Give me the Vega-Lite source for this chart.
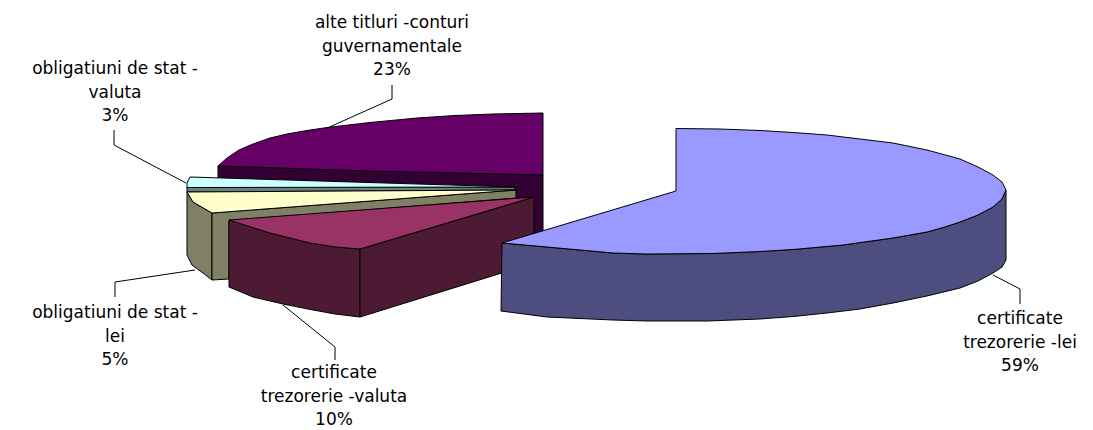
{"$schema":"https://vega.github.io/schema/vega-lite/v6.json","width":1093,"height":430,"autosize":{"type":"none"},"padding":0,"background":"white","view":{"stroke":null},
"layer":[
{"data":{"values":[
{"part":"purple wall","i":0,"x":218,"y":166},{"part":"purple wall","i":1,"x":543,"y":175},{"part":"purple wall","i":2,"x":543,"y":232},{"part":"purple wall","i":3,"x":480,"y":250},{"part":"purple wall","i":4,"x":218,"y":178},
{"part":"purple top","i":0,"x":543,"y":113},{"part":"purple top","i":1,"x":543,"y":175},{"part":"purple top","i":2,"x":370,"y":171},{"part":"purple top","i":3,"x":218,"y":166},{"part":"purple top","i":4,"x":227,"y":158},{"part":"purple top","i":5,"x":239,"y":150},{"part":"purple top","i":6,"x":253,"y":144},{"part":"purple top","i":7,"x":270,"y":138},{"part":"purple top","i":8,"x":287,"y":134},{"part":"purple top","i":9,"x":307,"y":130.5},{"part":"purple top","i":10,"x":327,"y":127.5},{"part":"purple top","i":11,"x":370,"y":122.5},{"part":"purple top","i":12,"x":417,"y":118},{"part":"purple top","i":13,"x":455,"y":115.5},{"part":"purple top","i":14,"x":493,"y":114},
{"part":"cyan wall","i":0,"x":187,"y":187},{"part":"cyan wall","i":1,"x":515,"y":187},{"part":"cyan wall","i":2,"x":515,"y":190},{"part":"cyan wall","i":3,"x":187,"y":192},
{"part":"cyan top","i":0,"x":190,"y":177},{"part":"cyan top","i":1,"x":515,"y":187},{"part":"cyan top","i":2,"x":187,"y":187.5},{"part":"cyan top","i":3,"x":187,"y":183},
{"part":"olive left","i":0,"x":187,"y":192},{"part":"olive left","i":1,"x":193,"y":202},{"part":"olive left","i":2,"x":212,"y":213},{"part":"olive left","i":3,"x":212,"y":280},{"part":"olive left","i":4,"x":203,"y":273},{"part":"olive left","i":5,"x":192,"y":265},{"part":"olive left","i":6,"x":187,"y":255},
{"part":"olive right","i":0,"x":212,"y":213},{"part":"olive right","i":1,"x":516,"y":190},{"part":"olive right","i":2,"x":516,"y":198},{"part":"olive right","i":3,"x":229,"y":221},{"part":"olive right","i":4,"x":229,"y":279},{"part":"olive right","i":5,"x":212,"y":280},
{"part":"cream top","i":0,"x":187,"y":192},{"part":"cream top","i":1,"x":516,"y":190},{"part":"cream top","i":2,"x":212,"y":213},{"part":"cream top","i":3,"x":193,"y":202},
{"part":"maroon left","i":0,"x":229,"y":220},{"part":"maroon left","i":1,"x":360,"y":249},{"part":"maroon left","i":2,"x":360,"y":317},{"part":"maroon left","i":3,"x":335,"y":314},{"part":"maroon left","i":4,"x":313,"y":310},{"part":"maroon left","i":5,"x":283,"y":304},{"part":"maroon left","i":6,"x":253,"y":297},{"part":"maroon left","i":7,"x":229,"y":287},
{"part":"maroon right","i":0,"x":360,"y":249},{"part":"maroon right","i":1,"x":534,"y":197},{"part":"maroon right","i":2,"x":534,"y":263},{"part":"maroon right","i":3,"x":360,"y":317},
{"part":"maroon top","i":0,"x":229,"y":220},{"part":"maroon top","i":1,"x":534,"y":197},{"part":"maroon top","i":2,"x":360,"y":249},{"part":"maroon top","i":3,"x":335,"y":247},{"part":"maroon top","i":4,"x":310,"y":243},{"part":"maroon top","i":5,"x":270,"y":233},
{"part":"blue wall","i":0,"x":502,"y":243},{"part":"blue wall","i":1,"x":547,"y":247},{"part":"blue wall","i":2,"x":580,"y":250},{"part":"blue wall","i":3,"x":613,"y":253},{"part":"blue wall","i":4,"x":647,"y":254},{"part":"blue wall","i":5,"x":713,"y":253.5},{"part":"blue wall","i":6,"x":760,"y":251.5},{"part":"blue wall","i":7,"x":793,"y":249.5},{"part":"blue wall","i":8,"x":843,"y":245},{"part":"blue wall","i":9,"x":893,"y":238},{"part":"blue wall","i":10,"x":927,"y":232},{"part":"blue wall","i":11,"x":945,"y":227},{"part":"blue wall","i":12,"x":960,"y":222},{"part":"blue wall","i":13,"x":978,"y":215},{"part":"blue wall","i":14,"x":993,"y":207},{"part":"blue wall","i":15,"x":1002,"y":199},{"part":"blue wall","i":16,"x":1006,"y":190},{"part":"blue wall","i":17,"x":1006,"y":260},{"part":"blue wall","i":18,"x":1002,"y":267},{"part":"blue wall","i":19,"x":993,"y":273},{"part":"blue wall","i":20,"x":978,"y":281},{"part":"blue wall","i":21,"x":960,"y":288},{"part":"blue wall","i":22,"x":927,"y":296},{"part":"blue wall","i":23,"x":893,"y":303},{"part":"blue wall","i":24,"x":860,"y":309},{"part":"blue wall","i":25,"x":827,"y":313},{"part":"blue wall","i":26,"x":793,"y":316.5},{"part":"blue wall","i":27,"x":760,"y":319},{"part":"blue wall","i":28,"x":707,"y":321},{"part":"blue wall","i":29,"x":647,"y":321},{"part":"blue wall","i":30,"x":613,"y":320},{"part":"blue wall","i":31,"x":547,"y":317},{"part":"blue wall","i":32,"x":501,"y":311},
{"part":"blue top","i":0,"x":676,"y":128.5},{"part":"blue top","i":1,"x":720,"y":129},{"part":"blue top","i":2,"x":760,"y":130.5},{"part":"blue top","i":3,"x":793,"y":132.5},{"part":"blue top","i":4,"x":827,"y":135},{"part":"blue top","i":5,"x":860,"y":139},{"part":"blue top","i":6,"x":893,"y":143},{"part":"blue top","i":7,"x":927,"y":150},{"part":"blue top","i":8,"x":960,"y":159},{"part":"blue top","i":9,"x":978,"y":167},{"part":"blue top","i":10,"x":993,"y":175},{"part":"blue top","i":11,"x":1002,"y":182},{"part":"blue top","i":12,"x":1006,"y":190},{"part":"blue top","i":13,"x":1002,"y":199},{"part":"blue top","i":14,"x":993,"y":207},{"part":"blue top","i":15,"x":978,"y":215},{"part":"blue top","i":16,"x":960,"y":222},{"part":"blue top","i":17,"x":945,"y":227},{"part":"blue top","i":18,"x":927,"y":232},{"part":"blue top","i":19,"x":893,"y":238},{"part":"blue top","i":20,"x":843,"y":245},{"part":"blue top","i":21,"x":793,"y":249.5},{"part":"blue top","i":22,"x":760,"y":251.5},{"part":"blue top","i":23,"x":713,"y":253.5},{"part":"blue top","i":24,"x":647,"y":254},{"part":"blue top","i":25,"x":613,"y":253},{"part":"blue top","i":26,"x":580,"y":250},{"part":"blue top","i":27,"x":547,"y":247},{"part":"blue top","i":28,"x":502,"y":243},{"part":"blue top","i":29,"x":676,"y":191}
]},
"mark":{"type":"line","filled":true,"interpolate":"linear-closed","stroke":"#000000","strokeWidth":1,"strokeJoin":"round"},
"encoding":{"x":{"field":"x","type":"quantitative","scale":{"domain":[0,1093],"nice":false,"zero":false},"axis":null},"y":{"field":"y","type":"quantitative","scale":{"domain":[430,0],"nice":false,"zero":false},"axis":null},"order":{"field":"i","type":"quantitative"},
"detail":{"field":"part"},
"fill":{"field":"part","type":"nominal","legend":null,"scale":{"domain":["purple wall","purple top","cyan wall","cyan top","olive left","olive right","cream top","maroon left","maroon right","maroon top","blue wall","blue top"],"range":["#330033","#660066","#668080","#CCFFFF","#808066","#808066","#FFFFCC","#4D1A33","#4D1A33","#993366","#4D4D80","#9999FF"]}}}},
{"data":{"values":[
{"leader":"a","i":0,"x":392,"y":85},{"leader":"a","i":1,"x":392,"y":99},{"leader":"a","i":2,"x":325,"y":129},
{"leader":"b","i":0,"x":114,"y":130},{"leader":"b","i":1,"x":114,"y":145},{"leader":"b","i":2,"x":186,"y":183},
{"leader":"c","i":0,"x":115,"y":297},{"leader":"c","i":1,"x":115,"y":282},{"leader":"c","i":2,"x":195,"y":270},
{"leader":"d","i":0,"x":283,"y":305},{"leader":"d","i":1,"x":335,"y":347},{"leader":"d","i":2,"x":335,"y":360},
{"leader":"e","i":0,"x":993,"y":275},{"leader":"e","i":1,"x":1020,"y":289},{"leader":"e","i":2,"x":1020,"y":304}
]},
"mark":{"type":"line","stroke":"#000000","strokeWidth":1},
"encoding":{"x":{"field":"x","type":"quantitative","scale":{"domain":[0,1093],"nice":false,"zero":false},"axis":null},"y":{"field":"y","type":"quantitative","scale":{"domain":[430,0],"nice":false,"zero":false},"axis":null},"order":{"field":"i","type":"quantitative"},"detail":{"field":"leader"}}},
{"data":{"values":[
{"label":"alte titluri -conturi\nguvernamentale\n23%","x":392,"y":23},
{"label":"obligatiuni de stat -\nvaluta\n3%","x":115,"y":69},
{"label":"obligatiuni de stat -\nlei\n5%","x":115,"y":313},
{"label":"certificate\ntrezorerie -valuta\n10%","x":334,"y":373},
{"label":"certificate\ntrezorerie -lei\n59%","x":1020,"y":319}
]},
"mark":{"type":"text","font":"DejaVu Sans","fontSize":17,"lineBreak":"\n","lineHeight":23.5,"align":"center","baseline":"middle","color":"#000000"},
"encoding":{"x":{"field":"x","type":"quantitative","scale":{"domain":[0,1093],"nice":false,"zero":false},"axis":null},"y":{"field":"y","type":"quantitative","scale":{"domain":[430,0],"nice":false,"zero":false},"axis":null},"text":{"field":"label","type":"nominal"}}}
]}
